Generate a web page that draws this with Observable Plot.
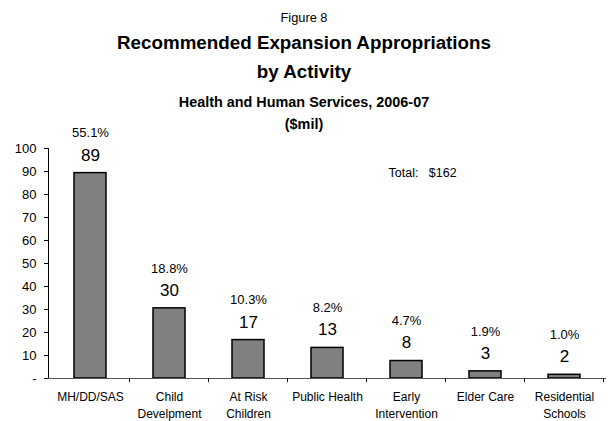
<!DOCTYPE html>
<html>
<head>
<meta charset="utf-8">
<script src="https://cdn.jsdelivr.net/npm/d3@7"></script>
<script src="https://cdn.jsdelivr.net/npm/@observablehq/plot@0.6"></script>
<style>
  body { margin: 0; background: #fff; overflow: hidden; }
  #wrap { position: relative; width: 608px; height: 421px; font-family: "Liberation Sans", Arial, sans-serif; color: #000; }
  .t { position: absolute; left: 0; width: 608px; text-align: center; white-space: nowrap; }
</style>
</head>
<body>
<div id="wrap">
  <div id="chart"></div>
  <div class="t" style="top:10px;font-size:12.8px;">Figure 8</div>
  <div class="t" style="top:32px;font-size:18.8px;font-weight:bold;">Recommended Expansion Appropriations</div>
  <div class="t" style="top:61px;font-size:18.8px;font-weight:bold;">by Activity</div>
  <div class="t" style="top:94px;font-size:14.4px;font-weight:bold;">Health and Human Services, 2006-07</div>
  <div class="t" style="top:116px;font-size:14.4px;font-weight:bold;">($mil)</div>
</div>
<script>
const categories = ["MH/DD/SAS", "Child\nDevelpment", "At Risk\nChildren", "Public Health", "Early\nIntervention", "Elder Care", "Residential\nSchools"];
const values = [89.3, 30.5, 16.7, 13.3, 7.6, 3.1, 1.6];
const valueLabels = ["89", "30", "17", "13", "8", "3", "2"];
const percentLabels = ["55.1%", "18.8%", "10.3%", "8.2%", "4.7%", "1.9%", "1.0%"];
const yTicks = [0, 10, 20, 30, 40, 50, 60, 70, 80, 90, 100];
const totalLabel = "Total:   $162";

const data = categories.map((c, i) => ({cat: c, v: values[i], vl: valueLabels[i], pl: percentLabels[i]}));

const plot = Plot.plot({
  width: 608,
  height: 421,
  marginTop: 148,
  marginBottom: 43,
  marginLeft: 48,
  marginRight: 2,
  style: {fontFamily: "Liberation Sans, Arial, sans-serif", background: "transparent"},
  x: {domain: categories, paddingInner: 0.6, paddingOuter: 0.3, label: null, axis: null},
  y: {domain: [0, 100], label: null},
  marks: [
    Plot.barY(data, {x: "cat", y: "v", fill: "#808080", stroke: "#000", strokeWidth: 1.5}),
    Plot.axisY({ticks: yTicks, tickFormat: d => d === 0 ? "-" : d, tickSize: 4, tickPadding: 8, fontSize: 13, label: null}),
    Plot.frame({anchor: "left", stroke: "#000"}),
    Plot.ruleY([0], {stroke: "#555"}),
    Plot.text(data, {x: "cat", y: "v", text: "vl", dy: -18, fontSize: 17}),
    Plot.text(data, {x: "cat", y: "v", text: "pl", dy: -40, fontSize: 13}),
    Plot.text(data, {x: "cat", text: "cat", frameAnchor: "bottom", dy: 10, lineAnchor: "top", lineHeight: 1.45, fontSize: 12}),
    Plot.text([totalLabel], {frameAnchor: "top-left", dx: 340, dy: 20, text: d => d, textAnchor: "start", fontSize: 12.5})
  ]
});
document.getElementById("chart").appendChild(plot);

// band-boundary ticks on the x axis, derived from the x scale
const xs = plot.scale("x");
const ys = plot.scale("y");
const svg = d3.select(plot);
const y0 = ys.apply(0);
const step = xs.step;
const start = xs.apply(categories[0]) - (step - xs.bandwidth) / 2;
const g = svg.append("g").attr("stroke", "#000");
for (let i = 1; i <= categories.length; i++) {
  const x = start + i * step;
  g.append("line").attr("x1", x).attr("x2", x).attr("y1", y0).attr("y2", y0 + 4);
}
svg.selectAll("text").attr("xml:space", "preserve").style("white-space", "pre");
</script>
</body>
</html>
